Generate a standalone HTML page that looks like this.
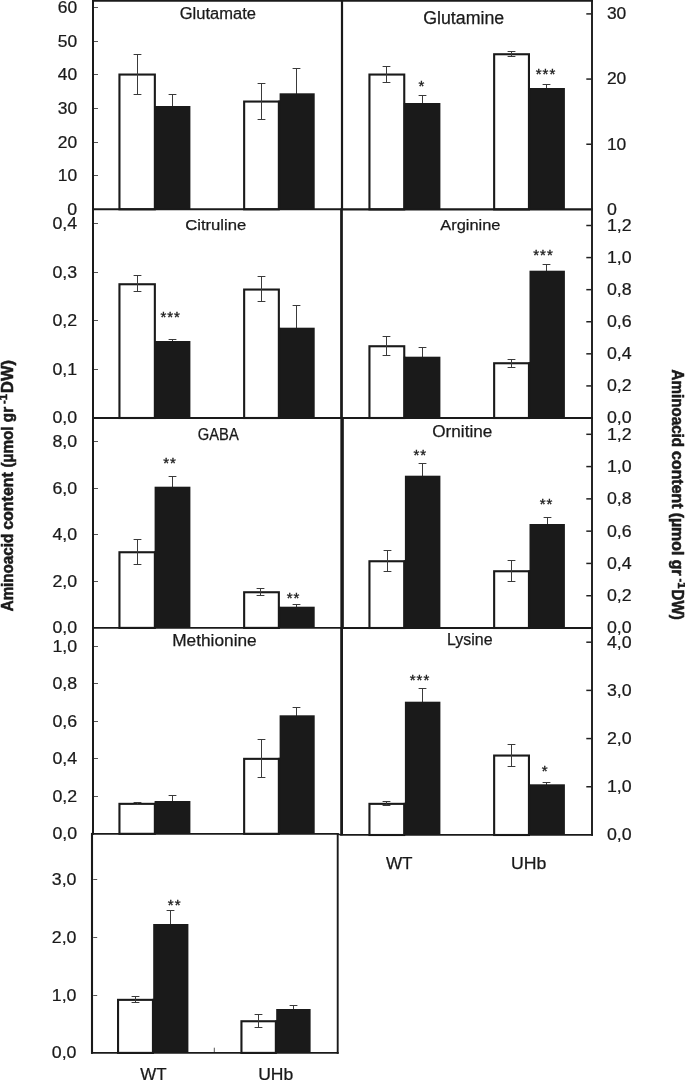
<!DOCTYPE html>
<html lang="en">
<head>
<meta charset="utf-8">
<title>Aminoacid content</title>
<style>
html,body{margin:0;padding:0;background:#fff;}
body{width:685px;height:1080px;overflow:hidden;}
svg{display:block;font-family:"Liberation Sans",Arial,Helvetica,sans-serif;}
</style>
</head>
<body>
<svg width="685" height="1080" viewBox="0 0 685 1080">
<rect width="685" height="1080" fill="#fff"/>
<g id="bars">
<path d="M168.60 94.50H176.40M172.50 94.50V107.00" stroke="#3a3a3a" stroke-width="1" fill="none"/>
<path d="M292.60 68.50H300.40M296.50 68.50V94.30" stroke="#3a3a3a" stroke-width="1" fill="none"/>
<rect x="154.60" y="106.00" width="35.80" height="103.30" fill="#1a1a1a"/>
<rect x="279.60" y="93.30" width="35.10" height="116.00" fill="#1a1a1a"/>
<rect x="119.45" y="74.55" width="35.40" height="134.75" fill="#fff" stroke="#1a1a1a" stroke-width="2.1"/>
<rect x="244.15" y="101.55" width="34.70" height="107.75" fill="#fff" stroke="#1a1a1a" stroke-width="2.1"/>
<rect x="154.30" y="106.00" width="0.90" height="103.30" fill="#1a1a1a"/>
<rect x="278.30" y="100.50" width="1.90" height="108.80" fill="#1a1a1a"/>
<path d="M133.60 54.50H141.40M133.60 94.50H141.40M137.50 54.50V94.50" stroke="#3a3a3a" stroke-width="1.0" fill="none"/>
<path d="M257.60 83.50H265.40M257.60 119.50H265.40M261.50 83.50V119.50" stroke="#3a3a3a" stroke-width="1.0" fill="none"/>
<path d="M418.60 95.50H426.40M422.50 95.50V104.00" stroke="#3a3a3a" stroke-width="1" fill="none"/>
<path d="M542.60 84.50H550.40M546.50 84.50V89.00" stroke="#3a3a3a" stroke-width="1" fill="none"/>
<rect x="404.90" y="103.00" width="35.50" height="106.40" fill="#1a1a1a"/>
<rect x="529.50" y="88.00" width="35.40" height="121.40" fill="#1a1a1a"/>
<rect x="369.45" y="74.55" width="34.80" height="134.85" fill="#fff" stroke="#1a1a1a" stroke-width="2.1"/>
<rect x="494.15" y="54.25" width="34.80" height="155.15" fill="#fff" stroke="#1a1a1a" stroke-width="2.1"/>
<rect x="403.70" y="103.00" width="1.80" height="106.40" fill="#1a1a1a"/>
<rect x="528.40" y="88.00" width="1.70" height="121.40" fill="#1a1a1a"/>
<path d="M382.60 66.50H390.40M382.60 82.50H390.40M386.50 66.50V82.50" stroke="#3a3a3a" stroke-width="1.0" fill="none"/>
<path d="M507.60 51.50H515.40M507.60 56.50H515.40M511.50 51.50V56.50" stroke="#3a3a3a" stroke-width="1.0" fill="none"/>
<path d="M168.60 339.50H176.40M172.50 339.50V342.00" stroke="#3a3a3a" stroke-width="1" fill="none"/>
<path d="M292.60 305.50H300.40M296.50 305.50V328.70" stroke="#3a3a3a" stroke-width="1" fill="none"/>
<rect x="154.60" y="341.00" width="35.80" height="77.00" fill="#1a1a1a"/>
<rect x="279.60" y="327.70" width="35.10" height="90.30" fill="#1a1a1a"/>
<rect x="119.45" y="284.25" width="35.40" height="133.75" fill="#fff" stroke="#1a1a1a" stroke-width="2.1"/>
<rect x="244.15" y="289.55" width="34.70" height="128.45" fill="#fff" stroke="#1a1a1a" stroke-width="2.1"/>
<rect x="154.30" y="341.00" width="0.90" height="77.00" fill="#1a1a1a"/>
<rect x="278.30" y="327.70" width="1.90" height="90.30" fill="#1a1a1a"/>
<path d="M133.60 275.50H141.40M133.60 291.50H141.40M137.50 275.50V291.50" stroke="#3a3a3a" stroke-width="1.0" fill="none"/>
<path d="M257.60 276.50H265.40M257.60 301.50H265.40M261.50 276.50V301.50" stroke="#3a3a3a" stroke-width="1.0" fill="none"/>
<path d="M418.60 347.50H426.40M422.50 347.50V357.70" stroke="#3a3a3a" stroke-width="1" fill="none"/>
<path d="M542.60 264.50H550.40M546.50 264.50V271.70" stroke="#3a3a3a" stroke-width="1" fill="none"/>
<rect x="404.90" y="356.70" width="35.50" height="61.30" fill="#1a1a1a"/>
<rect x="529.50" y="270.70" width="35.40" height="147.30" fill="#1a1a1a"/>
<rect x="369.45" y="346.25" width="34.80" height="71.75" fill="#fff" stroke="#1a1a1a" stroke-width="2.1"/>
<rect x="494.15" y="363.25" width="34.80" height="54.75" fill="#fff" stroke="#1a1a1a" stroke-width="2.1"/>
<rect x="403.70" y="356.70" width="1.80" height="61.30" fill="#1a1a1a"/>
<rect x="528.40" y="362.20" width="1.70" height="55.80" fill="#1a1a1a"/>
<path d="M382.60 336.50H390.40M382.60 355.50H390.40M386.50 336.50V355.50" stroke="#3a3a3a" stroke-width="1.0" fill="none"/>
<path d="M507.60 359.50H515.40M507.60 367.50H515.40M511.50 359.50V367.50" stroke="#3a3a3a" stroke-width="1.0" fill="none"/>
<path d="M168.60 476.50H176.40M172.50 476.50V487.70" stroke="#3a3a3a" stroke-width="1" fill="none"/>
<path d="M292.60 604.50H300.40M296.50 604.50V607.70" stroke="#3a3a3a" stroke-width="1" fill="none"/>
<rect x="154.60" y="486.70" width="35.80" height="141.20" fill="#1a1a1a"/>
<rect x="279.60" y="606.70" width="35.10" height="21.20" fill="#1a1a1a"/>
<rect x="119.45" y="552.25" width="35.40" height="75.65" fill="#fff" stroke="#1a1a1a" stroke-width="2.1"/>
<rect x="244.15" y="592.25" width="34.70" height="35.65" fill="#fff" stroke="#1a1a1a" stroke-width="2.1"/>
<rect x="154.30" y="551.20" width="0.90" height="76.70" fill="#1a1a1a"/>
<rect x="278.30" y="606.70" width="1.90" height="21.20" fill="#1a1a1a"/>
<path d="M133.60 539.50H141.40M133.60 564.50H141.40M137.50 539.50V564.50" stroke="#3a3a3a" stroke-width="1.0" fill="none"/>
<path d="M256.60 588.50H264.40M256.60 595.50H264.40M260.50 588.50V595.50" stroke="#3a3a3a" stroke-width="1.0" fill="none"/>
<path d="M418.60 463.50H426.40M422.50 463.50V476.70" stroke="#3a3a3a" stroke-width="1" fill="none"/>
<path d="M543.60 517.50H551.40M547.50 517.50V525.00" stroke="#3a3a3a" stroke-width="1" fill="none"/>
<rect x="404.90" y="475.70" width="35.50" height="152.30" fill="#1a1a1a"/>
<rect x="529.50" y="524.00" width="35.40" height="104.00" fill="#1a1a1a"/>
<rect x="369.45" y="561.25" width="34.80" height="66.75" fill="#fff" stroke="#1a1a1a" stroke-width="2.1"/>
<rect x="494.15" y="571.25" width="34.80" height="56.75" fill="#fff" stroke="#1a1a1a" stroke-width="2.1"/>
<rect x="403.70" y="560.20" width="1.80" height="67.80" fill="#1a1a1a"/>
<rect x="528.40" y="570.20" width="1.70" height="57.80" fill="#1a1a1a"/>
<path d="M383.60 550.50H391.40M383.60 571.50H391.40M387.50 550.50V571.50" stroke="#3a3a3a" stroke-width="1.0" fill="none"/>
<path d="M507.60 560.50H515.40M507.60 581.50H515.40M511.50 560.50V581.50" stroke="#3a3a3a" stroke-width="1.0" fill="none"/>
<path d="M168.60 795.50H176.40M172.50 795.50V802.00" stroke="#3a3a3a" stroke-width="1" fill="none"/>
<path d="M292.60 707.50H300.40M296.50 707.50V716.30" stroke="#3a3a3a" stroke-width="1" fill="none"/>
<rect x="154.60" y="801.00" width="35.80" height="32.80" fill="#1a1a1a"/>
<rect x="279.60" y="715.30" width="35.10" height="118.50" fill="#1a1a1a"/>
<rect x="119.45" y="803.85" width="35.40" height="29.95" fill="#fff" stroke="#1a1a1a" stroke-width="2.1"/>
<rect x="244.15" y="758.85" width="34.70" height="74.95" fill="#fff" stroke="#1a1a1a" stroke-width="2.1"/>
<rect x="154.30" y="802.80" width="0.90" height="31.00" fill="#1a1a1a"/>
<rect x="278.30" y="757.80" width="1.90" height="76.00" fill="#1a1a1a"/>
<path d="M133.60 802.50H141.40M133.60 804.50H141.40M137.50 802.50V804.50" stroke="#3a3a3a" stroke-width="1.0" fill="none"/>
<path d="M257.60 739.50H265.40M257.60 777.50H265.40M261.50 739.50V777.50" stroke="#3a3a3a" stroke-width="1.0" fill="none"/>
<path d="M418.60 688.50H426.40M422.50 688.50V702.70" stroke="#3a3a3a" stroke-width="1" fill="none"/>
<path d="M542.60 782.50H550.40M546.50 782.50V785.30" stroke="#3a3a3a" stroke-width="1" fill="none"/>
<rect x="404.90" y="701.70" width="35.50" height="133.30" fill="#1a1a1a"/>
<rect x="529.50" y="784.30" width="35.40" height="50.70" fill="#1a1a1a"/>
<rect x="369.45" y="803.85" width="34.80" height="31.15" fill="#fff" stroke="#1a1a1a" stroke-width="2.1"/>
<rect x="494.15" y="755.55" width="34.80" height="79.45" fill="#fff" stroke="#1a1a1a" stroke-width="2.1"/>
<rect x="403.70" y="802.80" width="1.80" height="32.20" fill="#1a1a1a"/>
<rect x="528.40" y="784.30" width="1.70" height="50.70" fill="#1a1a1a"/>
<path d="M382.60 801.50H390.40M382.60 805.50H390.40M386.50 801.50V805.50" stroke="#3a3a3a" stroke-width="1.0" fill="none"/>
<path d="M507.60 744.50H515.40M507.60 766.50H515.40M511.50 744.50V766.50" stroke="#3a3a3a" stroke-width="1.0" fill="none"/>
<path d="M166.60 910.50H174.40M170.50 910.50V925.00" stroke="#3a3a3a" stroke-width="1" fill="none"/>
<path d="M289.60 1005.50H297.40M293.50 1005.50V1010.00" stroke="#3a3a3a" stroke-width="1" fill="none"/>
<rect x="153.20" y="924.00" width="35.20" height="128.90" fill="#1a1a1a"/>
<rect x="276.20" y="1009.00" width="34.40" height="43.90" fill="#1a1a1a"/>
<rect x="118.05" y="999.85" width="34.90" height="53.05" fill="#fff" stroke="#1a1a1a" stroke-width="2.1"/>
<rect x="241.45" y="1021.25" width="34.40" height="31.65" fill="#fff" stroke="#1a1a1a" stroke-width="2.1"/>
<rect x="152.40" y="998.80" width="1.40" height="54.10" fill="#1a1a1a"/>
<rect x="275.30" y="1020.20" width="1.50" height="32.70" fill="#1a1a1a"/>
<path d="M131.60 996.50H139.40M131.60 1002.50H139.40M135.50 996.50V1002.50" stroke="#3a3a3a" stroke-width="1.0" fill="none"/>
<path d="M254.60 1014.50H262.40M254.60 1027.50H262.40M258.50 1014.50V1027.50" stroke="#3a3a3a" stroke-width="1.0" fill="none"/>
</g>
<g id="frames">
<line x1="92.0" y1="0.85" x2="593.0" y2="0.85" stroke="#1a1a1a" stroke-width="1.75" />
<line x1="93.0" y1="0" x2="93.0" y2="834.7" stroke="#1a1a1a" stroke-width="2.0" />
<line x1="92.0" y1="832.9" x2="92.0" y2="1053.8" stroke="#1a1a1a" stroke-width="2.1" />
<line x1="592.0" y1="0" x2="592.0" y2="835.8" stroke="#1a1a1a" stroke-width="1.9" />
<line x1="342.0" y1="0" x2="342.0" y2="210" stroke="#1a1a1a" stroke-width="2.2" />
<line x1="341.5" y1="208.5" x2="341.5" y2="419" stroke="#1a1a1a" stroke-width="2.75" />
<line x1="342.1" y1="417" x2="342.1" y2="629" stroke="#1a1a1a" stroke-width="3.5" />
<line x1="341.6" y1="627" x2="341.6" y2="835.2" stroke="#1a1a1a" stroke-width="2.8" />
<line x1="92.0" y1="209.25" x2="342" y2="209.25" stroke="#1a1a1a" stroke-width="2.0" />
<line x1="342" y1="209.45" x2="593.0" y2="209.45" stroke="#1a1a1a" stroke-width="2.2" />
<line x1="92.0" y1="418.0" x2="593.0" y2="418.0" stroke="#1a1a1a" stroke-width="2.0" />
<line x1="92.0" y1="627.85" x2="342" y2="627.85" stroke="#1a1a1a" stroke-width="1.8" />
<line x1="342" y1="628.05" x2="593.0" y2="628.05" stroke="#1a1a1a" stroke-width="1.9" />
<line x1="91.0" y1="833.75" x2="338.5" y2="833.75" stroke="#1a1a1a" stroke-width="1.75" />
<line x1="337.5" y1="834.3" x2="341.5" y2="834.8" stroke="#1a1a1a" stroke-width="1.5" />
<line x1="340.2" y1="834.95" x2="593.0" y2="834.95" stroke="#1a1a1a" stroke-width="1.8" />
<line x1="91.0" y1="1052.85" x2="338.65" y2="1052.85" stroke="#1a1a1a" stroke-width="1.95" />
<line x1="337.7" y1="833" x2="337.7" y2="1053.8" stroke="#1a1a1a" stroke-width="1.9" />
</g>
<g id="ticks">
<line x1="94.0" y1="7.50" x2="98.0" y2="7.50" stroke="#555" stroke-width="1" />
<text x="77.2" y="12.9" font-size="15.9" text-anchor="end" font-weight="normal" fill="#1a1a1a" stroke="#1a1a1a" stroke-width="0.22" textLength="19.4" lengthAdjust="spacingAndGlyphs">60</text>
<line x1="94.0" y1="41.50" x2="98.0" y2="41.50" stroke="#555" stroke-width="1" />
<text x="77.2" y="46.6" font-size="15.9" text-anchor="end" font-weight="normal" fill="#1a1a1a" stroke="#1a1a1a" stroke-width="0.22" textLength="19.4" lengthAdjust="spacingAndGlyphs">50</text>
<line x1="94.0" y1="74.50" x2="98.0" y2="74.50" stroke="#555" stroke-width="1" />
<text x="77.2" y="80.2" font-size="15.9" text-anchor="end" font-weight="normal" fill="#1a1a1a" stroke="#1a1a1a" stroke-width="0.22" textLength="19.4" lengthAdjust="spacingAndGlyphs">40</text>
<line x1="94.0" y1="108.50" x2="98.0" y2="108.50" stroke="#555" stroke-width="1" />
<text x="77.2" y="113.9" font-size="15.9" text-anchor="end" font-weight="normal" fill="#1a1a1a" stroke="#1a1a1a" stroke-width="0.22" textLength="19.4" lengthAdjust="spacingAndGlyphs">30</text>
<line x1="94.0" y1="142.50" x2="98.0" y2="142.50" stroke="#555" stroke-width="1" />
<text x="77.2" y="147.5" font-size="15.9" text-anchor="end" font-weight="normal" fill="#1a1a1a" stroke="#1a1a1a" stroke-width="0.22" textLength="19.4" lengthAdjust="spacingAndGlyphs">20</text>
<line x1="94.0" y1="175.50" x2="98.0" y2="175.50" stroke="#555" stroke-width="1" />
<text x="77.2" y="181.1" font-size="15.9" text-anchor="end" font-weight="normal" fill="#1a1a1a" stroke="#1a1a1a" stroke-width="0.22" textLength="19.4" lengthAdjust="spacingAndGlyphs">10</text>
<text x="77.2" y="214.8" font-size="15.9" text-anchor="end" font-weight="normal" fill="#1a1a1a" stroke="#1a1a1a" stroke-width="0.22" textLength="9.9" lengthAdjust="spacingAndGlyphs">0</text>
<line x1="94.0" y1="223.50" x2="98.0" y2="223.50" stroke="#555" stroke-width="1" />
<text x="77.2" y="229.2" font-size="15.9" text-anchor="end" font-weight="normal" fill="#1a1a1a" stroke="#1a1a1a" stroke-width="0.22" textLength="24.7" lengthAdjust="spacingAndGlyphs">0,4</text>
<line x1="94.0" y1="272.50" x2="98.0" y2="272.50" stroke="#555" stroke-width="1" />
<text x="77.2" y="277.8" font-size="15.9" text-anchor="end" font-weight="normal" fill="#1a1a1a" stroke="#1a1a1a" stroke-width="0.22" textLength="24.7" lengthAdjust="spacingAndGlyphs">0,3</text>
<line x1="94.0" y1="320.50" x2="98.0" y2="320.50" stroke="#555" stroke-width="1" />
<text x="77.2" y="326.3" font-size="15.9" text-anchor="end" font-weight="normal" fill="#1a1a1a" stroke="#1a1a1a" stroke-width="0.22" textLength="24.7" lengthAdjust="spacingAndGlyphs">0,2</text>
<line x1="94.0" y1="369.50" x2="98.0" y2="369.50" stroke="#555" stroke-width="1" />
<text x="77.2" y="374.9" font-size="15.9" text-anchor="end" font-weight="normal" fill="#1a1a1a" stroke="#1a1a1a" stroke-width="0.22" textLength="24.7" lengthAdjust="spacingAndGlyphs">0,1</text>
<text x="77.2" y="423.4" font-size="15.9" text-anchor="end" font-weight="normal" fill="#1a1a1a" stroke="#1a1a1a" stroke-width="0.22" textLength="24.7" lengthAdjust="spacingAndGlyphs">0,0</text>
<line x1="94.0" y1="441.50" x2="98.0" y2="441.50" stroke="#555" stroke-width="1" />
<text x="77.2" y="446.9" font-size="15.9" text-anchor="end" font-weight="normal" fill="#1a1a1a" stroke="#1a1a1a" stroke-width="0.22" textLength="24.7" lengthAdjust="spacingAndGlyphs">8,0</text>
<line x1="94.0" y1="488.50" x2="98.0" y2="488.50" stroke="#555" stroke-width="1" />
<text x="77.2" y="493.5" font-size="15.9" text-anchor="end" font-weight="normal" fill="#1a1a1a" stroke="#1a1a1a" stroke-width="0.22" textLength="24.7" lengthAdjust="spacingAndGlyphs">6,0</text>
<line x1="94.0" y1="534.50" x2="98.0" y2="534.50" stroke="#555" stroke-width="1" />
<text x="77.2" y="540.1" font-size="15.9" text-anchor="end" font-weight="normal" fill="#1a1a1a" stroke="#1a1a1a" stroke-width="0.22" textLength="24.7" lengthAdjust="spacingAndGlyphs">4,0</text>
<line x1="94.0" y1="581.50" x2="98.0" y2="581.50" stroke="#555" stroke-width="1" />
<text x="77.2" y="586.7" font-size="15.9" text-anchor="end" font-weight="normal" fill="#1a1a1a" stroke="#1a1a1a" stroke-width="0.22" textLength="24.7" lengthAdjust="spacingAndGlyphs">2,0</text>
<text x="77.2" y="633.3" font-size="15.9" text-anchor="end" font-weight="normal" fill="#1a1a1a" stroke="#1a1a1a" stroke-width="0.22" textLength="24.7" lengthAdjust="spacingAndGlyphs">0,0</text>
<line x1="94.0" y1="646.50" x2="98.0" y2="646.50" stroke="#555" stroke-width="1" />
<text x="77.2" y="652.0" font-size="15.9" text-anchor="end" font-weight="normal" fill="#1a1a1a" stroke="#1a1a1a" stroke-width="0.22" textLength="24.7" lengthAdjust="spacingAndGlyphs">1,0</text>
<line x1="94.0" y1="683.50" x2="98.0" y2="683.50" stroke="#555" stroke-width="1" />
<text x="77.2" y="689.4" font-size="15.9" text-anchor="end" font-weight="normal" fill="#1a1a1a" stroke="#1a1a1a" stroke-width="0.22" textLength="24.7" lengthAdjust="spacingAndGlyphs">0,8</text>
<line x1="94.0" y1="721.50" x2="98.0" y2="721.50" stroke="#555" stroke-width="1" />
<text x="77.2" y="726.9" font-size="15.9" text-anchor="end" font-weight="normal" fill="#1a1a1a" stroke="#1a1a1a" stroke-width="0.22" textLength="24.7" lengthAdjust="spacingAndGlyphs">0,6</text>
<line x1="94.0" y1="758.50" x2="98.0" y2="758.50" stroke="#555" stroke-width="1" />
<text x="77.2" y="764.3" font-size="15.9" text-anchor="end" font-weight="normal" fill="#1a1a1a" stroke="#1a1a1a" stroke-width="0.22" textLength="24.7" lengthAdjust="spacingAndGlyphs">0,4</text>
<line x1="94.0" y1="796.50" x2="98.0" y2="796.50" stroke="#555" stroke-width="1" />
<text x="77.2" y="801.8" font-size="15.9" text-anchor="end" font-weight="normal" fill="#1a1a1a" stroke="#1a1a1a" stroke-width="0.22" textLength="24.7" lengthAdjust="spacingAndGlyphs">0,2</text>
<text x="77.2" y="839.2" font-size="15.9" text-anchor="end" font-weight="normal" fill="#1a1a1a" stroke="#1a1a1a" stroke-width="0.22" textLength="24.7" lengthAdjust="spacingAndGlyphs">0,0</text>
<line x1="93.2" y1="879.50" x2="97.2" y2="879.50" stroke="#555" stroke-width="1" />
<text x="76.48" y="885.2" font-size="15.9" text-anchor="end" font-weight="normal" fill="#1a1a1a" stroke="#1a1a1a" stroke-width="0.22" textLength="24.7" lengthAdjust="spacingAndGlyphs">3,0</text>
<line x1="93.2" y1="937.50" x2="97.2" y2="937.50" stroke="#555" stroke-width="1" />
<text x="76.48" y="942.9" font-size="15.9" text-anchor="end" font-weight="normal" fill="#1a1a1a" stroke="#1a1a1a" stroke-width="0.22" textLength="24.7" lengthAdjust="spacingAndGlyphs">2,0</text>
<line x1="93.2" y1="995.50" x2="97.2" y2="995.50" stroke="#555" stroke-width="1" />
<text x="76.48" y="1000.6" font-size="15.9" text-anchor="end" font-weight="normal" fill="#1a1a1a" stroke="#1a1a1a" stroke-width="0.22" textLength="24.7" lengthAdjust="spacingAndGlyphs">1,0</text>
<text x="76.48" y="1058.3" font-size="15.9" text-anchor="end" font-weight="normal" fill="#1a1a1a" stroke="#1a1a1a" stroke-width="0.22" textLength="24.7" lengthAdjust="spacingAndGlyphs">0,0</text>
<line x1="586.3" y1="13.90" x2="591.1" y2="13.90" stroke="#222" stroke-width="1.5" />
<text x="606.9" y="19.2" font-size="15.9" text-anchor="start" font-weight="normal" fill="#1a1a1a" stroke="#1a1a1a" stroke-width="0.22" textLength="19.4" lengthAdjust="spacingAndGlyphs">30</text>
<line x1="586.3" y1="79.07" x2="591.1" y2="79.07" stroke="#222" stroke-width="1.5" />
<text x="606.9" y="84.4" font-size="15.9" text-anchor="start" font-weight="normal" fill="#1a1a1a" stroke="#1a1a1a" stroke-width="0.22" textLength="19.4" lengthAdjust="spacingAndGlyphs">20</text>
<line x1="586.3" y1="144.23" x2="591.1" y2="144.23" stroke="#222" stroke-width="1.5" />
<text x="606.9" y="149.6" font-size="15.9" text-anchor="start" font-weight="normal" fill="#1a1a1a" stroke="#1a1a1a" stroke-width="0.22" textLength="19.4" lengthAdjust="spacingAndGlyphs">10</text>
<text x="606.9" y="214.8" font-size="15.9" text-anchor="start" font-weight="normal" fill="#1a1a1a" stroke="#1a1a1a" stroke-width="0.22" textLength="9.9" lengthAdjust="spacingAndGlyphs">0</text>
<line x1="586.3" y1="225.50" x2="591.1" y2="225.50" stroke="#222" stroke-width="1.5" />
<text x="606.9" y="230.8" font-size="15.9" text-anchor="start" font-weight="normal" fill="#1a1a1a" stroke="#1a1a1a" stroke-width="0.22" textLength="24.7" lengthAdjust="spacingAndGlyphs">1,2</text>
<line x1="586.3" y1="257.58" x2="591.1" y2="257.58" stroke="#222" stroke-width="1.5" />
<text x="606.9" y="262.9" font-size="15.9" text-anchor="start" font-weight="normal" fill="#1a1a1a" stroke="#1a1a1a" stroke-width="0.22" textLength="24.7" lengthAdjust="spacingAndGlyphs">1,0</text>
<line x1="586.3" y1="289.67" x2="591.1" y2="289.67" stroke="#222" stroke-width="1.5" />
<text x="606.9" y="295.0" font-size="15.9" text-anchor="start" font-weight="normal" fill="#1a1a1a" stroke="#1a1a1a" stroke-width="0.22" textLength="24.7" lengthAdjust="spacingAndGlyphs">0,8</text>
<line x1="586.3" y1="321.75" x2="591.1" y2="321.75" stroke="#222" stroke-width="1.5" />
<text x="606.9" y="327.1" font-size="15.9" text-anchor="start" font-weight="normal" fill="#1a1a1a" stroke="#1a1a1a" stroke-width="0.22" textLength="24.7" lengthAdjust="spacingAndGlyphs">0,6</text>
<line x1="586.3" y1="353.83" x2="591.1" y2="353.83" stroke="#222" stroke-width="1.5" />
<text x="606.9" y="359.2" font-size="15.9" text-anchor="start" font-weight="normal" fill="#1a1a1a" stroke="#1a1a1a" stroke-width="0.22" textLength="24.7" lengthAdjust="spacingAndGlyphs">0,4</text>
<line x1="586.3" y1="385.92" x2="591.1" y2="385.92" stroke="#222" stroke-width="1.5" />
<text x="606.9" y="391.3" font-size="15.9" text-anchor="start" font-weight="normal" fill="#1a1a1a" stroke="#1a1a1a" stroke-width="0.22" textLength="24.7" lengthAdjust="spacingAndGlyphs">0,2</text>
<text x="606.9" y="423.4" font-size="15.9" text-anchor="start" font-weight="normal" fill="#1a1a1a" stroke="#1a1a1a" stroke-width="0.22" textLength="24.7" lengthAdjust="spacingAndGlyphs">0,0</text>
<line x1="586.3" y1="434.30" x2="591.1" y2="434.30" stroke="#222" stroke-width="1.5" />
<text x="606.9" y="439.7" font-size="15.9" text-anchor="start" font-weight="normal" fill="#1a1a1a" stroke="#1a1a1a" stroke-width="0.22" textLength="24.7" lengthAdjust="spacingAndGlyphs">1,2</text>
<line x1="586.3" y1="466.58" x2="591.1" y2="466.58" stroke="#222" stroke-width="1.5" />
<text x="606.9" y="471.9" font-size="15.9" text-anchor="start" font-weight="normal" fill="#1a1a1a" stroke="#1a1a1a" stroke-width="0.22" textLength="24.7" lengthAdjust="spacingAndGlyphs">1,0</text>
<line x1="586.3" y1="498.87" x2="591.1" y2="498.87" stroke="#222" stroke-width="1.5" />
<text x="606.9" y="504.2" font-size="15.9" text-anchor="start" font-weight="normal" fill="#1a1a1a" stroke="#1a1a1a" stroke-width="0.22" textLength="24.7" lengthAdjust="spacingAndGlyphs">0,8</text>
<line x1="586.3" y1="531.15" x2="591.1" y2="531.15" stroke="#222" stroke-width="1.5" />
<text x="606.9" y="536.5" font-size="15.9" text-anchor="start" font-weight="normal" fill="#1a1a1a" stroke="#1a1a1a" stroke-width="0.22" textLength="24.7" lengthAdjust="spacingAndGlyphs">0,6</text>
<line x1="586.3" y1="563.43" x2="591.1" y2="563.43" stroke="#222" stroke-width="1.5" />
<text x="606.9" y="568.8" font-size="15.9" text-anchor="start" font-weight="normal" fill="#1a1a1a" stroke="#1a1a1a" stroke-width="0.22" textLength="24.7" lengthAdjust="spacingAndGlyphs">0,4</text>
<line x1="586.3" y1="595.72" x2="591.1" y2="595.72" stroke="#222" stroke-width="1.5" />
<text x="606.9" y="601.1" font-size="15.9" text-anchor="start" font-weight="normal" fill="#1a1a1a" stroke="#1a1a1a" stroke-width="0.22" textLength="24.7" lengthAdjust="spacingAndGlyphs">0,2</text>
<text x="606.9" y="633.4" font-size="15.9" text-anchor="start" font-weight="normal" fill="#1a1a1a" stroke="#1a1a1a" stroke-width="0.22" textLength="24.7" lengthAdjust="spacingAndGlyphs">0,0</text>
<line x1="586.3" y1="642.20" x2="591.1" y2="642.20" stroke="#222" stroke-width="1.5" />
<text x="606.9" y="647.6" font-size="15.9" text-anchor="start" font-weight="normal" fill="#1a1a1a" stroke="#1a1a1a" stroke-width="0.22" textLength="24.7" lengthAdjust="spacingAndGlyphs">4,0</text>
<line x1="586.3" y1="690.39" x2="591.1" y2="690.39" stroke="#222" stroke-width="1.5" />
<text x="606.9" y="695.7" font-size="15.9" text-anchor="start" font-weight="normal" fill="#1a1a1a" stroke="#1a1a1a" stroke-width="0.22" textLength="24.7" lengthAdjust="spacingAndGlyphs">3,0</text>
<line x1="586.3" y1="738.58" x2="591.1" y2="738.58" stroke="#222" stroke-width="1.5" />
<text x="606.9" y="743.9" font-size="15.9" text-anchor="start" font-weight="normal" fill="#1a1a1a" stroke="#1a1a1a" stroke-width="0.22" textLength="24.7" lengthAdjust="spacingAndGlyphs">2,0</text>
<line x1="586.3" y1="786.76" x2="591.1" y2="786.76" stroke="#222" stroke-width="1.5" />
<text x="606.9" y="792.1" font-size="15.9" text-anchor="start" font-weight="normal" fill="#1a1a1a" stroke="#1a1a1a" stroke-width="0.22" textLength="24.7" lengthAdjust="spacingAndGlyphs">1,0</text>
<text x="606.9" y="840.3" font-size="15.9" text-anchor="start" font-weight="normal" fill="#1a1a1a" stroke="#1a1a1a" stroke-width="0.22" textLength="24.7" lengthAdjust="spacingAndGlyphs">0,0</text>
<line x1="214.3" y1="1047.7" x2="214.3" y2="1052" stroke="#555" stroke-width="1" />
</g>
<g id="titles">
<text x="179.78" y="19.4" font-size="15.8" text-anchor="start" font-weight="normal" fill="#1a1a1a" id="t1" stroke="#1a1a1a" stroke-width="0.25" textLength="76.24" lengthAdjust="spacingAndGlyphs">Glutamate</text>
<text x="423.22" y="24.1" font-size="17.6" text-anchor="start" font-weight="normal" fill="#1a1a1a" id="t2" stroke="#1a1a1a" stroke-width="0.25" textLength="80.99" lengthAdjust="spacingAndGlyphs">Glutamine</text>
<text x="185.16" y="230.4" font-size="15.4" text-anchor="start" font-weight="normal" fill="#1a1a1a" id="t3" stroke="#1a1a1a" stroke-width="0.25" textLength="61.16" lengthAdjust="spacingAndGlyphs">Citruline</text>
<text x="440.23" y="230.4" font-size="15.4" text-anchor="start" font-weight="normal" fill="#1a1a1a" id="t4" stroke="#1a1a1a" stroke-width="0.25" textLength="60.29" lengthAdjust="spacingAndGlyphs">Arginine</text>
<text x="197.74" y="439.7" font-size="15.9" text-anchor="start" font-weight="normal" fill="#1a1a1a" id="t5" stroke="#1a1a1a" stroke-width="0.25" textLength="41.00" lengthAdjust="spacingAndGlyphs">GABA</text>
<text x="432.25" y="437.2" font-size="15.9" text-anchor="start" font-weight="normal" fill="#1a1a1a" id="t6" stroke="#1a1a1a" stroke-width="0.25" textLength="60.01" lengthAdjust="spacingAndGlyphs">Ornitine</text>
<text x="172.25" y="646.0" font-size="15.9" text-anchor="start" font-weight="normal" fill="#1a1a1a" id="t7" stroke="#1a1a1a" stroke-width="0.25" textLength="84.42" lengthAdjust="spacingAndGlyphs">Methionine</text>
<text x="446.97" y="644.8" font-size="15.9" text-anchor="start" font-weight="normal" fill="#1a1a1a" id="t8" stroke="#1a1a1a" stroke-width="0.25" textLength="45.58" lengthAdjust="spacingAndGlyphs">Lysine</text>
<text x="385.89" y="869.2" font-size="17.2" text-anchor="start" font-weight="normal" fill="#1a1a1a" id="x1" stroke="#1a1a1a" stroke-width="0.25" textLength="26.61" lengthAdjust="spacingAndGlyphs">WT</text>
<text x="510.94" y="869.2" font-size="17.2" text-anchor="start" font-weight="normal" fill="#1a1a1a" id="x2" stroke="#1a1a1a" stroke-width="0.25" textLength="35.39" lengthAdjust="spacingAndGlyphs">UHb</text>
<text x="140.36" y="1080.0" font-size="17.2" text-anchor="start" font-weight="normal" fill="#1a1a1a" id="x3" stroke="#1a1a1a" stroke-width="0.25" textLength="26.32" lengthAdjust="spacingAndGlyphs">WT</text>
<text x="258.15" y="1080.0" font-size="17.2" text-anchor="start" font-weight="normal" fill="#1a1a1a" id="x4" stroke="#1a1a1a" stroke-width="0.25" textLength="35.07" lengthAdjust="spacingAndGlyphs">UHb</text>
</g>
<g id="stars">
<text x="418.61" y="90.54" font-size="15" text-anchor="start" font-weight="normal" fill="#1a1a1a" stroke="#1a1a1a" stroke-width="0.35" textLength="5.85" lengthAdjust="spacing">*</text>
<text x="535.83" y="78.77" font-size="15" text-anchor="start" font-weight="normal" fill="#1a1a1a" stroke="#1a1a1a" stroke-width="0.35" textLength="19.4" lengthAdjust="spacing">***</text>
<text x="160.54" y="321.58" font-size="15" text-anchor="start" font-weight="normal" fill="#1a1a1a" stroke="#1a1a1a" stroke-width="0.35" textLength="19.4" lengthAdjust="spacing">***</text>
<text x="533.32" y="260.19" font-size="15" text-anchor="start" font-weight="normal" fill="#1a1a1a" stroke="#1a1a1a" stroke-width="0.35" textLength="19.4" lengthAdjust="spacing">***</text>
<text x="163.28" y="467.80" font-size="15" text-anchor="start" font-weight="normal" fill="#1a1a1a" stroke="#1a1a1a" stroke-width="0.35" textLength="12.6" lengthAdjust="spacing">**</text>
<text x="286.84" y="603.35" font-size="15" text-anchor="start" font-weight="normal" fill="#1a1a1a" stroke="#1a1a1a" stroke-width="0.35" textLength="12.6" lengthAdjust="spacing">**</text>
<text x="413.60" y="459.55" font-size="15" text-anchor="start" font-weight="normal" fill="#1a1a1a" stroke="#1a1a1a" stroke-width="0.35" textLength="12.6" lengthAdjust="spacing">**</text>
<text x="539.72" y="509.16" font-size="15" text-anchor="start" font-weight="normal" fill="#1a1a1a" stroke="#1a1a1a" stroke-width="0.35" textLength="12.6" lengthAdjust="spacing">**</text>
<text x="409.83" y="685.17" font-size="15" text-anchor="start" font-weight="normal" fill="#1a1a1a" stroke="#1a1a1a" stroke-width="0.35" textLength="19.4" lengthAdjust="spacing">***</text>
<text x="541.79" y="775.77" font-size="15" text-anchor="start" font-weight="normal" fill="#1a1a1a" stroke="#1a1a1a" stroke-width="0.35" textLength="5.85" lengthAdjust="spacing">*</text>
<text x="167.87" y="909.58" font-size="15" text-anchor="start" font-weight="normal" fill="#1a1a1a" stroke="#1a1a1a" stroke-width="0.35" textLength="12.6" lengthAdjust="spacing">**</text>
</g>
<g id="ylabels" font-weight="bold">
<g transform="translate(13.0,611.3) rotate(-90)">
<text x="0.0" y="0" font-size="15.8" fill="#1a1a1a" stroke="#1a1a1a" stroke-width="0.55" stroke-linejoin="round" textLength="77.5" lengthAdjust="spacingAndGlyphs">Aminoacid</text>
<text x="81.5" y="0" font-size="15.8" fill="#1a1a1a" stroke="#1a1a1a" stroke-width="0.55" stroke-linejoin="round" textLength="57.7" lengthAdjust="spacingAndGlyphs">content</text>
<text x="143.8" y="0" font-size="15.8" fill="#1a1a1a" stroke="#1a1a1a" stroke-width="0.55" stroke-linejoin="round" textLength="60.6" lengthAdjust="spacingAndGlyphs">(µmol gr</text>
<text x="207.4" y="-6.4" font-size="10.5" fill="#1a1a1a" stroke="#1a1a1a" stroke-width="0.55" stroke-linejoin="round" textLength="10.0" lengthAdjust="spacingAndGlyphs">-1</text>
<text x="218.4" y="0" font-size="15.8" fill="#1a1a1a" stroke="#1a1a1a" stroke-width="0.55" stroke-linejoin="round" textLength="32.8" lengthAdjust="spacingAndGlyphs">DW)</text>
</g>
<g transform="translate(671.8,369.6) rotate(90)">
<text x="0.0" y="0" font-size="15.8" fill="#1a1a1a" stroke="#1a1a1a" stroke-width="0.55" stroke-linejoin="round" textLength="77.5" lengthAdjust="spacingAndGlyphs">Aminoacid</text>
<text x="81.5" y="0" font-size="15.8" fill="#1a1a1a" stroke="#1a1a1a" stroke-width="0.55" stroke-linejoin="round" textLength="57.4" lengthAdjust="spacingAndGlyphs">content</text>
<text x="143.1" y="0" font-size="15.8" fill="#1a1a1a" stroke="#1a1a1a" stroke-width="0.55" stroke-linejoin="round" textLength="62.9" lengthAdjust="spacingAndGlyphs">(µmol gr</text>
<text x="208.9" y="-6.4" font-size="10.5" fill="#1a1a1a" stroke="#1a1a1a" stroke-width="0.55" stroke-linejoin="round" textLength="10.0" lengthAdjust="spacingAndGlyphs">-1</text>
<text x="220.0" y="0" font-size="15.8" fill="#1a1a1a" stroke="#1a1a1a" stroke-width="0.55" stroke-linejoin="round" textLength="30.1" lengthAdjust="spacingAndGlyphs">DW)</text>
</g>
</g>
</svg>
</body>
</html>
